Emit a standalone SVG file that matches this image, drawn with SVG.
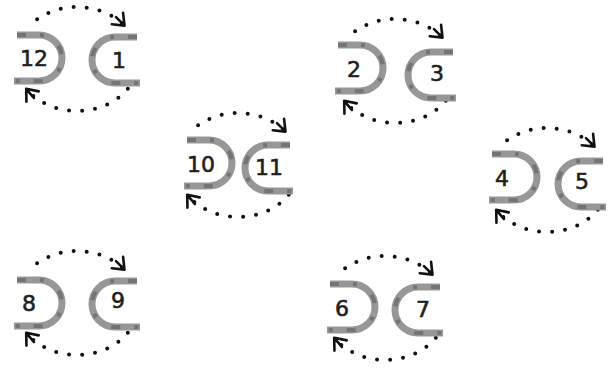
<svg xmlns="http://www.w3.org/2000/svg" width="615" height="372" viewBox="0 0 615 372">
<defs>
<style>
.shape{fill:none;stroke:#979797;stroke-width:7;stroke-linecap:butt;stroke-linejoin:round}
.ink{fill:none;stroke:#4a4a4a;stroke-width:4;stroke-dasharray:9 14 4 18;opacity:0.45}
.lbl{font-family:"DejaVu Sans",sans-serif;font-size:22px;fill:#1e1e1e;text-anchor:middle;stroke:#1e1e1e;stroke-width:0.6}
.dots{fill:none;stroke:#111;stroke-width:4;stroke-linecap:round;stroke-dasharray:0 13}
</style>
<marker id="ah" markerWidth="24" markerHeight="24" refX="14" refY="12" orient="auto" markerUnits="userSpaceOnUse" overflow="visible">
<path d="M4,4 L14,12 L4,20 M2,12 L14,12" fill="none" stroke="#111" stroke-width="2.6" stroke-linecap="round" stroke-linejoin="round"/>
</marker>
<path id="D" d="M-22,-23 L0,-23 A23 23 0 0 1 0,23 L-25,23"/>
<path id="C" d="M22,-23 L0,-23 A23 23 0 0 0 0,23 L25,23"/>
<path id="top" d="M-39.9,-39.8 A62 52 0 0 1 47.5,-33.4"/>
<path id="bot" d="M50.8,29.8 A62 52 0 0 1 -50.8,29.8"/>
</defs>
<rect width="615" height="372" fill="#ffffff"/>
<g id="connectors">
<g transform="translate(77,59)"><use href="#top" class="dots" marker-end="url(#ah)"/><use href="#bot" class="dots" marker-end="url(#ah)"/></g>
<g transform="translate(395,71)"><use href="#top" class="dots" marker-end="url(#ah)"/><use href="#bot" class="dots" marker-end="url(#ah)"/></g>
<g transform="translate(238,165)"><use href="#top" class="dots" marker-end="url(#ah)"/><use href="#bot" class="dots" marker-end="url(#ah)"/></g>
<g transform="translate(547,180)"><use href="#top" class="dots" marker-end="url(#ah)"/><use href="#bot" class="dots" marker-end="url(#ah)"/></g>
<g transform="translate(77,303)"><use href="#top" class="dots" marker-end="url(#ah)"/><use href="#bot" class="dots" marker-end="url(#ah)"/></g>
<g transform="translate(385,308)"><use href="#top" class="dots" marker-end="url(#ah)"/><use href="#bot" class="dots" marker-end="url(#ah)"/></g>
</g>
<g id="node12" transform="translate(39,58)"><use href="#D" class="shape"/><use href="#D" class="ink"/><text class="lbl" x="-5" y="8">12</text></g>
<g id="node1" transform="translate(115,60)"><use href="#C" class="shape"/><use href="#C" class="ink"/><text class="lbl" x="4" y="8">1</text></g>
<g id="node2" transform="translate(360,68)"><use href="#D" class="shape"/><use href="#D" class="ink"/><text class="lbl" x="-6" y="9">2</text></g>
<g id="node3" transform="translate(431,75)"><use href="#C" class="shape"/><use href="#C" class="ink"/><text class="lbl" x="6" y="6">3</text></g>
<g id="node10" transform="translate(209,163)"><use href="#D" class="shape"/><use href="#D" class="ink"/><text class="lbl" x="-8" y="9">10</text></g>
<g id="node11" transform="translate(268,168)"><use href="#C" class="shape"/><use href="#C" class="ink"/><text class="lbl" x="1" y="7">11</text></g>
<g id="node4" transform="translate(514,177)"><use href="#D" class="shape"/><use href="#D" class="ink"/><text class="lbl" x="-12" y="9">4</text></g>
<g id="node5" transform="translate(581,184)"><use href="#C" class="shape"/><use href="#C" class="ink"/><text class="lbl" x="1" y="5">5</text></g>
<g id="node8" transform="translate(39,303)"><use href="#D" class="shape"/><use href="#D" class="ink"/><text class="lbl" x="-10" y="8">8</text></g>
<g id="node9" transform="translate(115,304)"><use href="#C" class="shape"/><use href="#C" class="ink"/><text class="lbl" x="3" y="4">9</text></g>
<g id="node6" transform="translate(352,307)"><use href="#D" class="shape"/><use href="#D" class="ink"/><text class="lbl" x="-10" y="9">6</text></g>
<g id="node7" transform="translate(418,310)"><use href="#C" class="shape"/><use href="#C" class="ink"/><text class="lbl" x="5" y="7">7</text></g>
</svg>
